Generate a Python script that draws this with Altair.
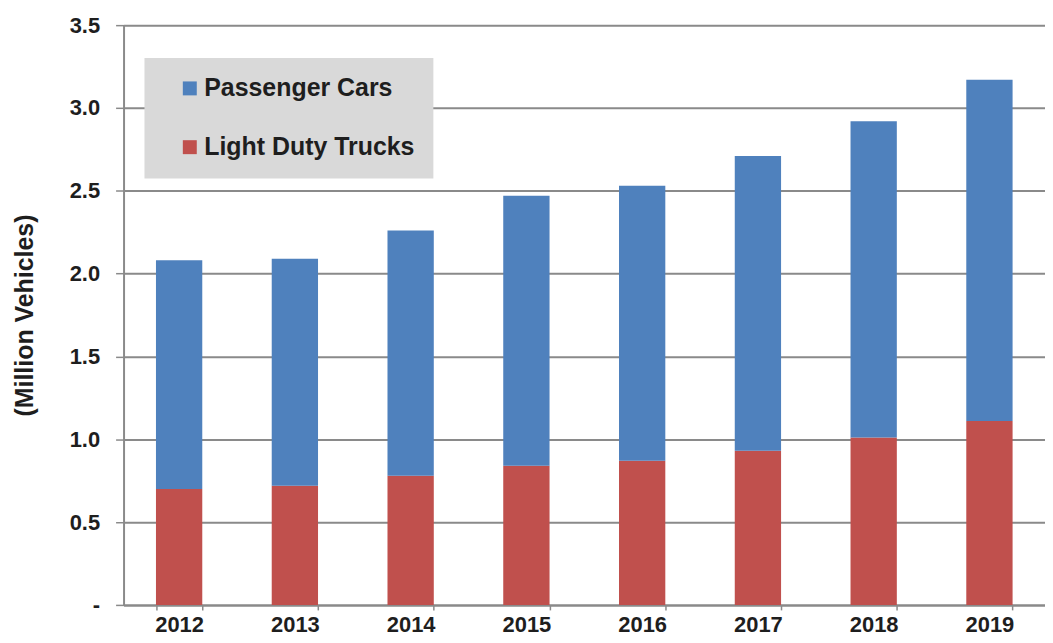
import altair as alt
import pandas as pd

years = ["2012", "2013", "2014", "2015", "2016", "2017", "2018", "2019"]
light_duty_trucks = [0.70, 0.72, 0.78, 0.84, 0.87, 0.93, 1.01, 1.11]
passenger_cars = [1.38, 1.37, 1.48, 1.63, 1.66, 1.78, 1.91, 2.06]
series = ["Passenger Cars", "Light Duty Trucks"]
colors = ["#4F81BD", "#C0504D"]
y_ticks = [0, 0.5, 1.0, 1.5, 2.0, 2.5, 3.0, 3.5]

rows = []
for i, yr in enumerate(years):
    rows.append({"year": yr, "series": "Light Duty Trucks", "value": light_duty_trucks[i], "ord": 0})
    rows.append({"year": yr, "series": "Passenger Cars", "value": passenger_cars[i], "ord": 1})
df = pd.DataFrame(rows)

FONT = "Liberation Sans"
TXT = "#1e1e1e"
GRID = "#8a8a8a"

chart = alt.Chart(df).mark_bar().encode(
    x=alt.X("year:N", title=None,
            scale=alt.Scale(paddingInner=0.6, paddingOuter=0.28),
            axis=alt.Axis(labelAngle=0, labelFont=FONT, labelFontSize=22, labelFontWeight="bold",
                          labelColor=TXT, tickBand="extent", tickSize=5, tickColor=GRID,
                          tickWidth=1.5, domainColor=GRID, domainWidth=2, labelPadding=5,
                          grid=False)),
    y=alt.Y("value:Q", title="(Million Vehicles)", stack="zero",
            scale=alt.Scale(domain=[0, 3.5], nice=False),
            axis=alt.Axis(values=y_ticks,
                          labelExpr="datum.value == 0 ? '-' : format(datum.value, '.1f')",
                          labelFont=FONT, labelFontSize=22, labelFontWeight="bold", labelColor=TXT,
                          labelPadding=16, tickSize=8, tickColor=GRID, tickWidth=1.5,
                          domainColor=GRID, domainWidth=2,
                          gridColor=GRID, gridWidth=2,
                          titleFont=FONT, titleFontSize=25, titleFontWeight="bold", titleColor=TXT,
                          titlePadding=32)),
    color=alt.Color("series:N", scale=alt.Scale(domain=series, range=colors),
                    legend=alt.Legend(title=None, orient="none", legendX=21, legendY=33,
                                      fillColor="#D9D9D9", padding=18, symbolType="square",
                                      symbolSize=196, symbolOffset=15, symbolStrokeWidth=0,
                                      labelFont=FONT, labelFontSize=25, labelFontWeight="bold",
                                      labelColor=TXT, rowPadding=33, labelOffset=2, labelLimit=500)),
    order=alt.Order("ord:Q"),
).properties(
    width=925, height=582, padding={"left": 4, "top": 5, "right": 0, "bottom": 0}
).configure_view(stroke=None).configure(background="white")

chart.save("out.html", embed_options={"renderer": "svg", "actions": False})
